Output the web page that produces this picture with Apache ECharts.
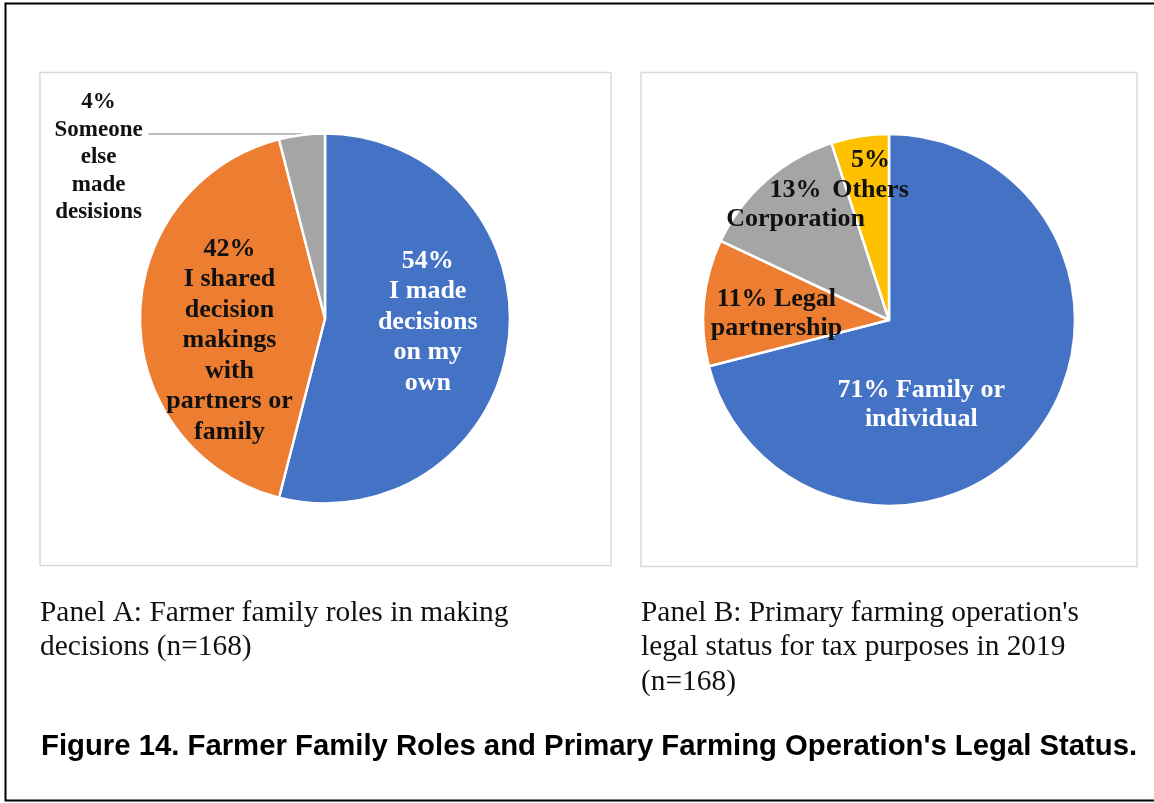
<!DOCTYPE html>
<html><head><meta charset="utf-8">
<script src="https://cdn.jsdelivr.net/npm/echarts@6/dist/echarts.min.js"></script>
<style>html,body{margin:0;padding:0;background:#fff;overflow:hidden}#c{width:1154px;height:803px}</style>
</head><body><div id="c"></div>
<script>
// ---- data ----
const panelACategories = ['I made decisions on my own', 'I shared decision makings with partners or family', 'Someone else made desisions'];
const panelAValues = [54, 42, 4];
const panelALabels = ['{v}%\nI made\ndecisions\non my\nown', '{v}%\nI shared\ndecision\nmakings\nwith\npartners or\nfamily', '{v}%\nSomeone\nelse\nmade\ndesisions'];

const panelBCategories = ['Family or individual', 'Legal partnership', 'Corporation', 'Others'];
const panelBValues = [71, 11, 13, 5];
const panelBLabels = ['{v}% Family or\nindividual', '{v}% Legal\npartnership', '{v}%\nCorporation', '{v}%\nOthers'];

const captionA = 'Panel A: Farmer family roles in making\ndecisions (n=168)';
const captionB = "Panel B: Primary farming operation's\nlegal status for tax purposes in 2019\n(n=168)";
const figureTitle = "Figure 14. Farmer Family Roles and Primary Farming Operation's Legal Status.";

// ---- style / layout ----
const COLORS = ['#4472C4', '#ED7D31', '#A5A5A5', '#FFC000'];
const SERIF = "'Liberation Serif', 'Times New Roman', serif";
const SANS = "'Liberation Sans', Arial, sans-serif";
const labelColor = i => (i === 0 ? '#ffffff' : '#111111');
const offsetsA = [[8, -8.5], [0, 22], null];
const offsetsB = [[-43.6, 25.8], [-17, 3], [-30, -43], [-3.5, -50]];

function fmt(t, v) { return t.replace('{v}', v); }

const dataA = panelAValues.map((v, i) => {
  const item = { value: v, name: panelACategories[i], itemStyle: { color: COLORS[i] } };
  if (i < 2) {
    item.label = { position: 'inside', color: labelColor(i), fontSize: 26, lineHeight: 30.5,
      formatter: fmt(panelALabels[i], v) };
    item.labelLine = { show: false };
  } else {
    const lines = fmt(panelALabels[i], v).split('\n');
    item.label = { position: 'outside', distanceToLabelLine: 6, padding: [47, 0, 0, 0],
      formatter: lines.map(l => '{c|' + l + '}').join('\n'),
      rich: { c: { align: 'center', fontSize: 23, lineHeight: 27.5, fontWeight: 'bold', fontFamily: SERIF, color: '#111111' } } };
    item.labelLine = { show: true, length: 1, length2: 153, smooth: false,
      lineStyle: { color: '#a6a6a6', width: 1.5 } };
  }
  return item;
});

const dataB = panelBValues.map((v, i) => ({
  value: v, name: panelBCategories[i], itemStyle: { color: COLORS[i] },
  label: { position: 'inside', color: labelColor(i), fontSize: 26, lineHeight: 29.5, formatter: fmt(panelBLabels[i], v) },
  labelLine: { show: false }
}));

const pieBase = {
  type: 'pie', startAngle: 90, clockwise: true, avoidLabelOverlap: false, silent: true,
  animation: false,
  itemStyle: { borderColor: '#ffffff', borderWidth: 2.5 },
  label: { show: true, fontFamily: SERIF, fontWeight: 'bold' },
  emphasis: { disabled: true }
};

const chart = echarts.init(document.getElementById('c'), null, { renderer: 'canvas' });
chart.setOption({
  animation: false,
  backgroundColor: '#ffffff',
  graphic: [
    { type: 'rect', shape: { x: 5.5, y: 3.5, width: 1170, height: 797 }, style: { fill: null, stroke: '#000', lineWidth: 2 }, z: 0 },
    { type: 'rect', shape: { x: 40, y: 72.5, width: 571, height: 493 }, style: { fill: '#fff', stroke: '#d9d9d9', lineWidth: 1.5 }, z: -1 },
    { type: 'rect', shape: { x: 641, y: 72.5, width: 496, height: 494 }, style: { fill: '#fff', stroke: '#d9d9d9', lineWidth: 1.5 }, z: -1 }
  ],
  title: [
    { text: captionA, left: 40, top: 596, padding: 0,
      textStyle: { fontFamily: SERIF, fontWeight: 'normal', fontSize: 29.4, lineHeight: 34, color: '#111' } },
    { text: captionB, left: 641, top: 596, padding: 0,
      textStyle: { fontFamily: SERIF, fontWeight: 'normal', fontSize: 29.4, lineHeight: 34.5, color: '#111' } },
    { text: figureTitle, left: 41, top: 730, padding: 0,
      textStyle: { fontFamily: SANS, fontWeight: 'bold', fontSize: 29.3, lineHeight: 34, color: '#000' } }
  ],
  series: [
    Object.assign({}, pieBase, {
      center: [325, 318.5], radius: [0, 185], data: dataA,
      labelLayout: p => { const o = offsetsA[p.dataIndex]; return o ? { dx: o[0], dy: o[1] } : {}; }
    }),
    Object.assign({}, pieBase, {
      center: [889, 320], radius: [0, 186], data: dataB,
      labelLayout: p => { const o = offsetsB[p.dataIndex]; return o ? { dx: o[0], dy: o[1] } : {}; }
    })
  ]
});
</script></body></html>
